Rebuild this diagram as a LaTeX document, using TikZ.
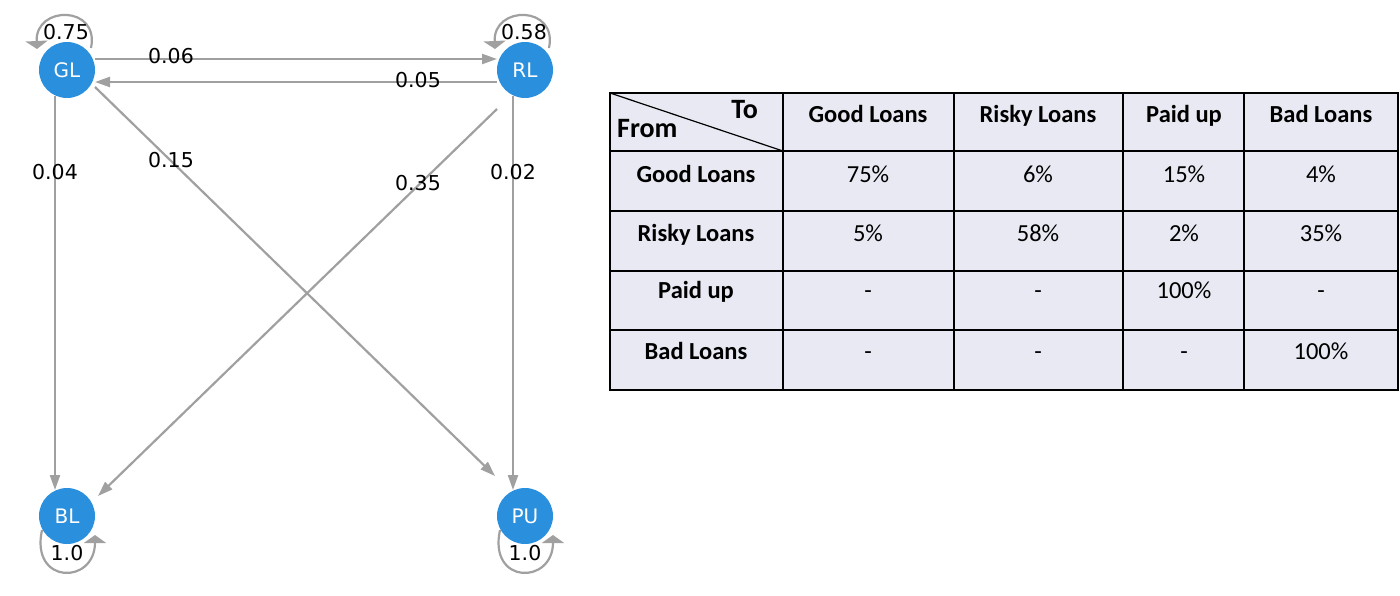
\documentclass[tikz,border=0pt]{standalone}
\usepackage{fontspec}
\setmainfont{DejaVu Sans}
\newfontfamily\calfont{Carlito}
\usetikzlibrary{arrows.meta,calc}
\definecolor{nodeblue}{RGB}{42,143,220}
\definecolor{edgegray}{RGB}{160,160,160}
\definecolor{cellfill}{RGB}{233,233,243}
\begin{document}
\begin{tikzpicture}[x=1pt,y=-1pt,
  state/.style={circle,fill=nodeblue,minimum size=56pt,inner sep=0pt,text=white,font=\fontsize{20}{22}\selectfont},
  edge/.style={draw=edgegray,line width=2.2pt,-{Triangle[length=15pt,width=10pt]}},
  selfloop/.style={draw=edgegray,line width=2.2pt,-{Triangle[length=8pt,width=22pt]}},
  elabel/.style={font=\fontsize{20.5}{24}\selectfont,text=black,inner sep=0pt},
  cell/.style={font=\calfont\fontsize{24.5}{28}\selectfont,anchor=base,inner sep=0pt},
  hcell/.style={font=\calfont\bfseries\fontsize{24.5}{28}\selectfont,anchor=base,inner sep=0pt},
  corner/.style={font=\calfont\bfseries\fontsize{28}{32}\selectfont,inner sep=0pt},
  grid/.style={line width=2pt,draw=black}]
\useasboundingbox (0,0) rectangle (1400,595);

% ---- graph nodes
\node[state] (GL) at (67,70) {GL};
\node[state] (RL) at (525,70) {RL};
\node[state] (BL) at (67,516) {BL};
\node[state] (PU) at (525,516) {PU};

% ---- edges
\draw[edge] ($(GL.center)+(28,-11)$) -- ($(RL.center)+(-28,-11)$);
\draw[edge] ($(RL.center)+(-28,12)$) -- ($(GL.center)+(28,12)$);
\draw[edge] ($(GL.center)+(-12,26)$) -- ($(BL.center)+(-12,-26)$);
\draw[edge] ($(RL.center)+(-12,26)$) -- ($(PU.center)+(-12,-26)$);
\draw[edge] ($(GL.center)+(28,17)$) -- ($(PU.center)+(-30,-40)$);
\draw[edge] ($(RL.center)+(-28,39)$) -- ($(BL.center)+(31,-20)$);

% ---- self loops
\draw[selfloop] ($(GL.center)+(24,-22)$) .. controls ($(GL.center)+(33,-65)$) and ($(GL.center)+(-32,-65)$) .. ($(GL.center)+(-30,-21)$);
\draw[selfloop] ($(RL.center)+(24,-22)$) .. controls ($(RL.center)+(33,-65)$) and ($(RL.center)+(-32,-65)$) .. ($(RL.center)+(-30,-21)$);
\draw[selfloop] ($(BL.center)+(-25,14)$) .. controls ($(BL.center)+(-37,69)$) and ($(BL.center)+(28,69)$) .. ($(BL.center)+(28,19)$);
\draw[selfloop] ($(PU.center)+(-25,14)$) .. controls ($(PU.center)+(-37,69)$) and ($(PU.center)+(28,69)$) .. ($(PU.center)+(28,19)$);

% ---- edge labels
\node[elabel] (l075) at (66,32) {0.75};
\node[elabel] (l058) at (524,32) {0.58};
\node[elabel] (l10a) at (67,553) {1.0};
\node[elabel] (l10b) at (525,553) {1.0};
\node[elabel] (l006) at (171,56) {0.06};
\node[elabel] (l005) at (418,80) {0.05};
\node[elabel] (l004) at (55,172) {0.04};
\node[elabel] (l015) at (171,160) {0.15};
\node[elabel] (l035) at (418,183) {0.35};
\node[elabel] (l002) at (513,172) {0.02};

% ---- table
\fill[cellfill] (610,93) rectangle (1398,390);
\draw[grid] (610,93) rectangle (1398,390);
\foreach \xx in {783,954,1123,1244} \draw[grid] (\xx,93) -- (\xx,390);
\foreach \yy in {151,211,271,330} \draw[grid] (610,\yy) -- (1398,\yy);
\draw[line width=1.2pt] (610,93) -- (783,151);

\node[corner,anchor=base east] (hto) at (758,118) {To};
\node[corner,anchor=base west] (hfrom) at (617,137) {From};
\node[hcell] (h1) at (868,122) {Good Loans};
\node[hcell] (h2) at (1038,122) {Risky Loans};
\node[hcell] (h3) at (1184,122) {Paid up};
\node[hcell] (h4) at (1321,122) {Bad Loans};

\node[hcell] (r1) at (696,182.5) {Good Loans};
\node[hcell] (r2) at (696,241.5) {Risky Loans};
\node[hcell] (r3) at (696,298.5) {Paid up};
\node[hcell] (r4) at (696,359.5) {Bad Loans};

\node[cell] (c11) at (868,182.5) {75\%};
\node[cell] (c12) at (1038,182.5) {6\%};
\node[cell] (c13) at (1184,182.5) {15\%};
\node[cell] (c14) at (1321,182.5) {4\%};
\node[cell] (c21) at (868,241.5) {5\%};
\node[cell] (c22) at (1038,241.5) {58\%};
\node[cell] (c23) at (1184,241.5) {2\%};
\node[cell] (c24) at (1321,241.5) {35\%};
\node[cell] (c31) at (868,298.5) {-};
\node[cell] (c32) at (1038,298.5) {-};
\node[cell] (c33) at (1184,298.5) {100\%};
\node[cell] (c34) at (1321,298.5) {-};
\node[cell] (c41) at (868,359.5) {-};
\node[cell] (c42) at (1038,359.5) {-};
\node[cell] (c43) at (1184,359.5) {-};
\node[cell] (c44) at (1321,359.5) {100\%};
\end{tikzpicture}
\end{document}
